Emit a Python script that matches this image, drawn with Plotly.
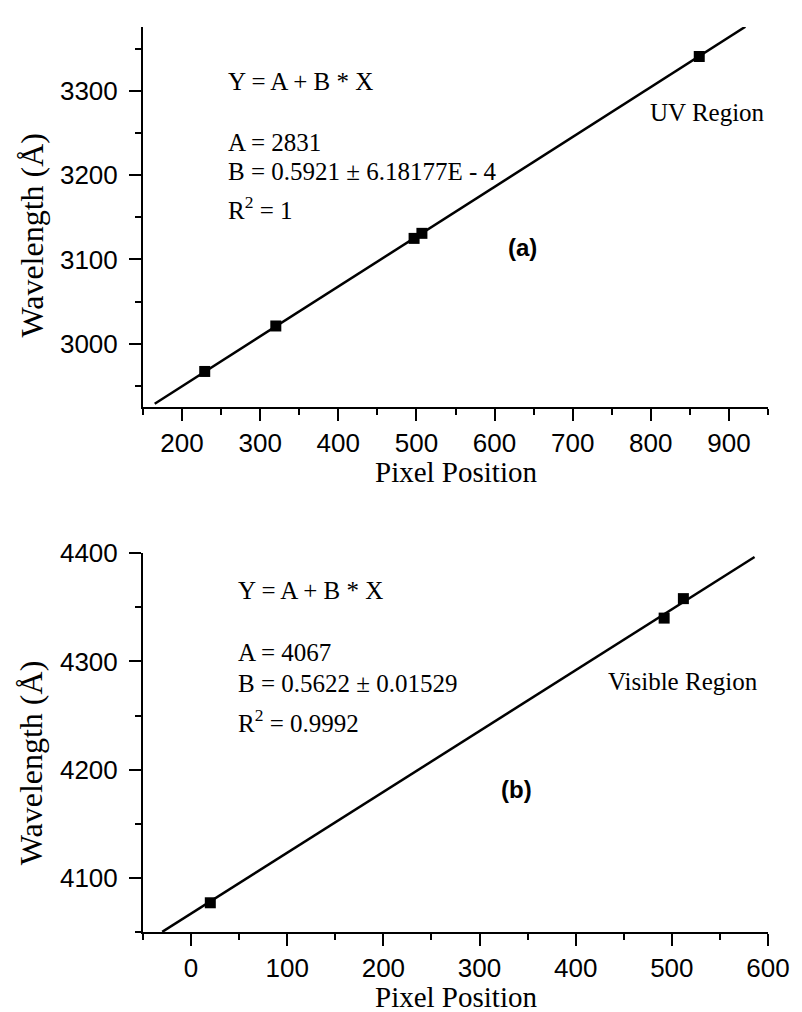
import plotly.graph_objects as go

# ---------------- data ----------------
# (a) UV region
uv_pixel = [229, 320, 497, 507, 862]
uv_wavelength = [2967, 3021, 3125, 3131, 3341]
uv_A = 2831
uv_B = 0.5921
uv_fit_x = [165, 921]

# (b) Visible region
vis_pixel = [20, 492, 512]
vis_wavelength = [4077, 4340, 4358]
vis_A = 4067
vis_B = 0.5622
vis_fit_x = [-30, 586]

uv_xtick_vals = [200, 300, 400, 500, 600, 700, 800, 900]
uv_ytick_vals = [3000, 3100, 3200, 3300]
vis_xtick_vals = [0, 100, 200, 300, 400, 500, 600]
vis_ytick_vals = [4100, 4200, 4300, 4400]

uv_text = ["Y = A + B * X", "A = 2831", "B = 0.5921 \u00b1 6.18177E - 4", "R<sup>2</sup> = 1"]
vis_text = ["Y = A + B * X", "A = 4067", "B = 0.5622 \u00b1 0.01529", "R<sup>2</sup> = 0.9992"]

SERIF = "Times New Roman, Liberation Serif, serif"
SANS = "Arial, Liberation Sans, sans-serif"

fig = go.Figure()

fig.add_trace(go.Scatter(x=uv_fit_x, y=[uv_A + uv_B * v for v in uv_fit_x], mode="lines",
                         line=dict(color="black", width=2.5), xaxis="x", yaxis="y", showlegend=False))
fig.add_trace(go.Scatter(x=uv_pixel, y=uv_wavelength, mode="markers",
                         marker=dict(symbol="square", size=11, color="black"),
                         xaxis="x", yaxis="y", showlegend=False, cliponaxis=False))
fig.add_trace(go.Scatter(x=vis_fit_x, y=[vis_A + vis_B * v for v in vis_fit_x], mode="lines",
                         line=dict(color="black", width=2.5), xaxis="x2", yaxis="y2", showlegend=False))
fig.add_trace(go.Scatter(x=vis_pixel, y=vis_wavelength, mode="markers",
                         marker=dict(symbol="square", size=11, color="black"),
                         xaxis="x2", yaxis="y2", showlegend=False, cliponaxis=False))

axis_common = dict(showline=True, linecolor="black", linewidth=2, ticks="outside",
                   ticklen=12, tickwidth=2, tickcolor="black", showgrid=False, zeroline=False,
                   tickfont=dict(family=SANS, size=26, color="black"),
                   minor=dict(ticklen=6, tickwidth=2, tickcolor="black", dtick=50, ticks="outside",
                              showgrid=False))

fig.update_layout(
    width=802, height=1012,
    margin=dict(l=143, r=24, t=17, b=80),
    paper_bgcolor="white", plot_bgcolor="white",
    xaxis=dict(axis_common, domain=[0, 1], anchor="y", range=[150, 950],
               tickvals=uv_xtick_vals, ticklabelstandoff=0),
    yaxis=dict(axis_common, domain=[0.5803, 1], anchor="x", range=[2925, 3376],
               tickvals=uv_ytick_vals, ticklabelstandoff=6),
    xaxis2=dict(axis_common, domain=[0, 1], anchor="y2", range=[-50, 600],
                tickvals=vis_xtick_vals, ticklabelstandoff=0),
    yaxis2=dict(axis_common, domain=[0, 0.4186], anchor="x2", range=[4050, 4400],
                tickvals=vis_ytick_vals, ticklabelstandoff=6),
)

text_font = dict(family=SERIF, size=25, color="black")
ann = []
uv_text_y = [3311, 3239, 3204, 3161]
for t, yy in zip(uv_text, uv_text_y):
    ann.append(dict(x=256, y=yy, xref="x", yref="y", text=t, showarrow=False,
                    xanchor="left", yanchor="middle", font=text_font))
ann.append(dict(x=796, y=3274, xref="x", yref="y", text="UV Region", showarrow=False,
                xanchor="left", yanchor="middle", font=text_font))
ann.append(dict(x=636, y=3114, xref="x", yref="y", text="<b>(a)</b>", showarrow=False,
                xanchor="center", yanchor="middle", font=dict(family=SANS, size=24, color="black")))

vis_text_y = [4365.5, 4308.5, 4279.5, 4245]
for t, yy in zip(vis_text, vis_text_y):
    ann.append(dict(x=46.5, y=yy, xref="x2", yref="y2", text=t, showarrow=False,
                    xanchor="left", yanchor="middle", font=text_font))
ann.append(dict(x=432, y=4281, xref="x2", yref="y2", text="Visible Region", showarrow=False,
                xanchor="left", yanchor="middle", font=text_font))
ann.append(dict(x=338, y=4182, xref="x2", yref="y2", text="<b>(b)</b>", showarrow=False,
                xanchor="center", yanchor="middle", font=dict(family=SANS, size=24, color="black")))

ytitle_font = dict(family=SERIF, size=32, color="black")
xtitle_font = dict(family=SERIF, size=29, color="black")
ann.append(dict(x=-0.178, y=0.4505, xref="x domain", yref="y domain", text="Wavelength (\u00c5)",
                textangle=-90, showarrow=False, xanchor="center", yanchor="middle", font=ytitle_font))
ann.append(dict(x=-0.178, y=0.445, xref="x2 domain", yref="y2 domain", text="Wavelength (\u00c5)",
                textangle=-90, showarrow=False, xanchor="center", yanchor="middle", font=ytitle_font))
ann.append(dict(x=0.5, y=-0.172, xref="x domain", yref="y domain", text="Pixel Position",
                showarrow=False, xanchor="center", yanchor="middle", font=xtitle_font))
ann.append(dict(x=0.5, y=-0.171, xref="x2 domain", yref="y2 domain", text="Pixel Position",
                showarrow=False, xanchor="center", yanchor="middle", font=xtitle_font))

fig.update_layout(annotations=ann)
fig.write_html("out.html", config={"displayModeBar": False},
               post_script="document.body.style.margin='0';document.body.style.overflow='hidden';")
